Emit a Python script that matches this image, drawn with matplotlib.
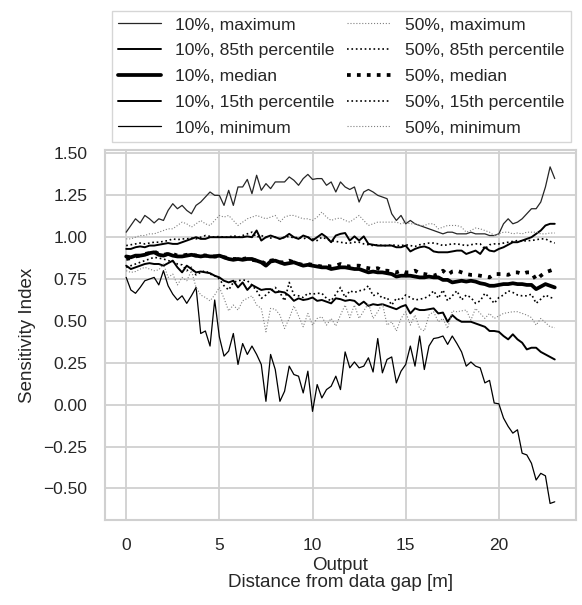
import numpy as np
import matplotlib.pyplot as plt
import seaborn as sns

# output positions along the transect (every 0.25 m)
dist = np.arange(93) * 0.25

max_10 = [1.03, 1.07, 1.11, 1.085, 1.13, 1.11, 1.085, 1.11, 1.10, 1.16, 1.20, 1.17,
          1.19, 1.16, 1.14, 1.19, 1.21, 1.24, 1.27, 1.25, 1.25, 1.19, 1.28, 1.19,
          1.30, 1.30, 1.345, 1.26, 1.37, 1.28, 1.32, 1.29, 1.33, 1.33, 1.33, 1.36,
          1.34, 1.31, 1.35, 1.375, 1.345, 1.35, 1.35, 1.31, 1.33, 1.27, 1.33, 1.30,
          1.285, 1.30, 1.21, 1.27, 1.285, 1.27, 1.25, 1.24, 1.23, 1.14, 1.10, 1.13,
          1.08, 1.10, 1.08, 1.07, 1.06, 1.05, 1.04, 1.03, 1.02, 1.03, 1.03, 1.02,
          1.02, 1.02, 1.03, 1.02, 1.02, 1.02, 1.01, 1.01, 1.02, 1.08, 1.11, 1.08,
          1.09, 1.11, 1.14, 1.17, 1.17, 1.21, 1.30, 1.42, 1.35]
p85_10 = [0.93, 0.93, 0.94, 0.945, 0.94, 0.95, 0.95, 0.955, 0.96, 0.965, 0.96, 0.96,
          0.97, 0.98, 0.99, 1.0, 0.99, 0.99, 1.0, 1.0, 1.0, 1.0, 1.0, 1.0,
          1.0, 1.0, 1.005, 1.0, 1.04, 0.98, 1.0, 1.01, 1.0, 0.99, 1.0, 1.02,
          1.0, 0.99, 1.01, 1.0, 0.98, 1.0, 1.02, 1.0, 0.97, 1.01, 1.02, 1.025,
          0.98, 1.005, 0.98, 1.005, 0.96, 0.955, 0.95, 0.95, 0.95, 0.95, 0.94, 0.94,
          0.95, 0.915, 0.93, 0.94, 0.945, 0.935, 0.915, 0.91, 0.91, 0.91, 0.915, 0.92,
          0.92, 0.90, 0.91, 0.92, 0.90, 0.94, 0.92, 0.915, 0.93, 0.94, 0.955, 0.97,
          0.97, 0.98, 0.99, 1.0, 1.02, 1.04, 1.07, 1.08, 1.08]
med_10 = [0.885, 0.88, 0.89, 0.89, 0.895, 0.905, 0.91, 0.895, 0.89, 0.90, 0.89, 0.885,
          0.885, 0.89, 0.895, 0.89, 0.885, 0.89, 0.885, 0.885, 0.89, 0.88, 0.87, 0.865,
          0.87, 0.865, 0.87, 0.87, 0.86, 0.85, 0.83, 0.855, 0.86, 0.85, 0.84, 0.845,
          0.85, 0.84, 0.83, 0.835, 0.83, 0.825, 0.82, 0.82, 0.81, 0.815, 0.82, 0.82,
          0.815, 0.81, 0.81, 0.80, 0.79, 0.795, 0.79, 0.79, 0.785, 0.78, 0.765, 0.77,
          0.77, 0.77, 0.765, 0.76, 0.76, 0.765, 0.76, 0.76, 0.745, 0.745, 0.73, 0.735,
          0.74, 0.735, 0.74, 0.735, 0.725, 0.72, 0.71, 0.71, 0.715, 0.72, 0.72, 0.725,
          0.72, 0.72, 0.715, 0.715, 0.69, 0.705, 0.72, 0.71, 0.70]
p15_10 = [0.83, 0.81, 0.82, 0.83, 0.84, 0.845, 0.84, 0.84, 0.83, 0.845, 0.86, 0.82,
          0.79, 0.83, 0.81, 0.79, 0.795, 0.79, 0.785, 0.77, 0.76, 0.74, 0.73, 0.74,
          0.70, 0.73, 0.685, 0.715, 0.70, 0.685, 0.69, 0.69, 0.67, 0.675, 0.67, 0.65,
          0.62, 0.635, 0.625, 0.63, 0.64, 0.62, 0.625, 0.615, 0.605, 0.635, 0.63, 0.62,
          0.625, 0.62, 0.595, 0.615, 0.59, 0.60, 0.595, 0.60, 0.59, 0.58, 0.57, 0.585,
          0.595, 0.545, 0.575, 0.565, 0.565, 0.57, 0.575, 0.545, 0.55, 0.495, 0.535, 0.51,
          0.495, 0.495, 0.495, 0.485, 0.475, 0.465, 0.44, 0.44, 0.435, 0.41, 0.39, 0.42,
          0.39, 0.37, 0.33, 0.34, 0.34, 0.315, 0.30, 0.285, 0.27]
min_10 = [0.76, 0.685, 0.665, 0.70, 0.74, 0.75, 0.76, 0.715, 0.80, 0.71, 0.66, 0.625,
          0.65, 0.605, 0.65, 0.70, 0.425, 0.44, 0.35, 0.625, 0.405, 0.29, 0.32, 0.425,
          0.24, 0.365, 0.30, 0.35, 0.30, 0.24, 0.02, 0.30, 0.21, 0.02, 0.08, 0.23,
          0.18, 0.17, 0.07, 0.20, -0.04, 0.12, 0.04, 0.09, 0.11, 0.17, 0.09, 0.315,
          0.22, 0.255, 0.22, 0.23, 0.28, 0.195, 0.395, 0.19, 0.27, 0.285, 0.13, 0.20,
          0.24, 0.35, 0.23, 0.41, 0.21, 0.35, 0.395, 0.40, 0.41, 0.36, 0.41, 0.365,
          0.315, 0.23, 0.255, 0.23, 0.22, 0.13, 0.145, 0.01, 0.005, -0.08, -0.13, -0.17,
          -0.15, -0.29, -0.30, -0.35, -0.45, -0.41, -0.425, -0.59, -0.58]

max_50 = [0.99, 0.99, 1.00, 1.01, 1.01, 1.02, 1.02, 1.03, 1.04, 1.05, 1.05, 1.07,
          1.09, 1.08, 1.06, 1.08, 1.10, 1.08, 1.07, 1.10, 1.13, 1.12, 1.13, 1.10,
          1.07, 1.09, 1.11, 1.12, 1.13, 1.12, 1.11, 1.12, 1.13, 1.09, 1.12, 1.13,
          1.13, 1.12, 1.11, 1.11, 1.10, 1.12, 1.15, 1.12, 1.10, 1.11, 1.115, 1.10,
          1.09, 1.11, 1.13, 1.10, 1.07, 1.08, 1.09, 1.09, 1.09, 1.09, 1.09, 1.08,
          1.09, 1.08, 1.08, 1.07, 1.07, 1.08, 1.08, 1.05, 1.06, 1.07, 1.07, 1.07,
          1.06, 1.03, 1.04, 1.055, 1.05, 1.04, 1.03, 1.01, 1.02, 1.03, 1.03, 1.02,
          1.025, 1.02, 1.03, 1.03, 1.03, 1.02, 1.02, 1.025, 1.025]
p85_50 = [0.95, 0.955, 0.96, 0.965, 0.96, 0.965, 0.97, 0.97, 0.975, 0.98, 0.99, 0.985,
          0.99, 0.99, 0.995, 0.99, 1.0, 1.01, 1.005, 1.0, 1.005, 1.0, 1.0, 1.01,
          1.0, 1.01, 1.02, 1.03, 1.0, 1.01, 1.0, 0.995, 1.0, 0.99, 1.0, 1.005,
          0.995, 1.0, 0.99, 1.0, 0.99, 0.98, 1.0, 0.99, 0.98, 0.975, 0.97, 0.965,
          0.965, 0.97, 0.97, 0.96, 0.955, 0.95, 0.955, 0.95, 0.95, 0.955, 0.95, 0.95,
          0.955, 0.95, 0.945, 0.955, 0.96, 0.965, 0.965, 0.96, 0.95, 0.955, 0.96, 0.96,
          0.955, 0.95, 0.955, 0.96, 0.96, 0.93, 0.955, 0.96, 0.96, 0.965, 0.97, 0.975,
          0.98, 0.975, 0.98, 0.98, 0.985, 0.99, 0.99, 0.975, 0.965]
med_50 = [0.87, 0.875, 0.885, 0.89, 0.90, 0.905, 0.915, 0.90, 0.895, 0.90, 0.90, 0.89,
          0.89, 0.895, 0.895, 0.89, 0.895, 0.89, 0.89, 0.885, 0.885, 0.88, 0.875, 0.87,
          0.87, 0.87, 0.875, 0.865, 0.86, 0.855, 0.84, 0.86, 0.865, 0.85, 0.85, 0.86,
          0.85, 0.84, 0.835, 0.84, 0.835, 0.83, 0.825, 0.83, 0.825, 0.83, 0.84, 0.83,
          0.825, 0.83, 0.83, 0.82, 0.815, 0.81, 0.815, 0.80, 0.80, 0.795, 0.79, 0.80,
          0.79, 0.79, 0.80, 0.785, 0.78, 0.775, 0.77, 0.78, 0.80, 0.775, 0.795, 0.80,
          0.79, 0.78, 0.775, 0.775, 0.77, 0.765, 0.76, 0.78, 0.78, 0.78, 0.775, 0.79,
          0.79, 0.78, 0.79, 0.79, 0.745, 0.77, 0.79, 0.80, 0.81]
p15_50 = [0.82, 0.83, 0.84, 0.85, 0.86, 0.87, 0.88, 0.875, 0.87, 0.86, 0.855, 0.84,
          0.835, 0.80, 0.82, 0.775, 0.79, 0.80, 0.78, 0.77, 0.75, 0.71, 0.685, 0.73,
          0.74, 0.745, 0.74, 0.715, 0.68, 0.635, 0.655, 0.68, 0.70, 0.67, 0.62, 0.73,
          0.655, 0.65, 0.64, 0.665, 0.66, 0.665, 0.665, 0.635, 0.62, 0.66, 0.70, 0.64,
          0.68, 0.67, 0.68, 0.685, 0.71, 0.65, 0.665, 0.635, 0.64, 0.595, 0.635, 0.625,
          0.655, 0.64, 0.625, 0.63, 0.635, 0.65, 0.68, 0.635, 0.685, 0.62, 0.65, 0.68,
          0.625, 0.655, 0.64, 0.605, 0.62, 0.665, 0.64, 0.605, 0.64, 0.655, 0.68, 0.67,
          0.655, 0.65, 0.65, 0.66, 0.605, 0.63, 0.655, 0.64, 0.635]
min_50 = [0.80, 0.79, 0.795, 0.81, 0.82, 0.81, 0.80, 0.805, 0.84, 0.76, 0.78, 0.715,
          0.76, 0.74, 0.80, 0.70, 0.655, 0.64, 0.62, 0.655, 0.70, 0.635, 0.56, 0.595,
          0.565, 0.62, 0.635, 0.65, 0.595, 0.575, 0.435, 0.575, 0.57, 0.535, 0.455, 0.515,
          0.59, 0.53, 0.465, 0.545, 0.475, 0.515, 0.525, 0.475, 0.515, 0.47, 0.535, 0.595,
          0.52, 0.595, 0.515, 0.56, 0.605, 0.515, 0.555, 0.605, 0.475, 0.495, 0.44, 0.515,
          0.555, 0.475, 0.535, 0.455, 0.44, 0.535, 0.555, 0.495, 0.515, 0.455, 0.56, 0.555,
          0.56, 0.565, 0.505, 0.575, 0.545, 0.515, 0.545, 0.515, 0.53, 0.545, 0.55, 0.555,
          0.555, 0.545, 0.535, 0.52, 0.475, 0.515, 0.49, 0.465, 0.46]

sns.set_style('whitegrid')
plt.rcParams['font.family'] = ['Liberation Sans', 'DejaVu Sans']
plt.rcParams['grid.color'] = '#d0d0d0'
plt.rcParams['grid.linewidth'] = 1.3
plt.rcParams['axes.edgecolor'] = '#d0d0d0'
plt.rcParams['axes.linewidth'] = 1.5

fig = plt.figure(figsize=(5.82, 6.05), dpi=100)
ax = fig.add_axes([0.18, 0.14, 0.81, 0.612])

# 10% gap: solid lines, 50% gap: dotted lines
ax.plot(dist, max_10, color='0.15', lw=0.9, ls='-', label='10%, maximum')
ax.plot(dist, p85_10, color='black', lw=1.4, ls='-', label='10%, 85th percentile')
ax.plot(dist, med_10, color='black', lw=2.7, ls='-', label='10%, median')
ax.plot(dist, p15_10, color='black', lw=1.4, ls='-', label='10%, 15th percentile')
ax.plot(dist, min_10, color='black', lw=0.9, ls='-', label='10%, minimum')
ax.plot(dist, max_50, color='0.5', lw=0.8, ls=':', label='50%, maximum')
ax.plot(dist, p85_50, color='black', lw=1.2, ls=':', label='50%, 85th percentile')
ax.plot(dist, med_50, color='black', lw=2.7, ls=':', label='50%, median')
ax.plot(dist, p15_50, color='black', lw=1.2, ls=':', label='50%, 15th percentile')
ax.plot(dist, min_50, color='0.5', lw=0.8, ls=':', label='50%, minimum')

ax.set_yticks([-0.5, -0.25, 0, 0.25, 0.5, 0.75, 1.0, 1.25, 1.5])
ax.set_xticks([0, 5, 10, 15, 20])
ax.tick_params(labelsize=12.5, pad=9)
ax.set_ylabel('Sensitivity Index', fontsize=13.5, labelpad=5)
ax.set_xlabel('Output\nDistance from data gap [m]', fontsize=13.5, linespacing=1.05,
              labelpad=3)

fig.legend(loc='upper center', bbox_to_anchor=(0.586, 0.996), ncol=2,
           fontsize=12.6, handlelength=2.5, columnspacing=0.7, handletextpad=0.8,
           labelspacing=0.6, frameon=True, edgecolor='0.8', fancybox=False,
           borderpad=0.35)

plt.savefig('out.png', dpi=100)
